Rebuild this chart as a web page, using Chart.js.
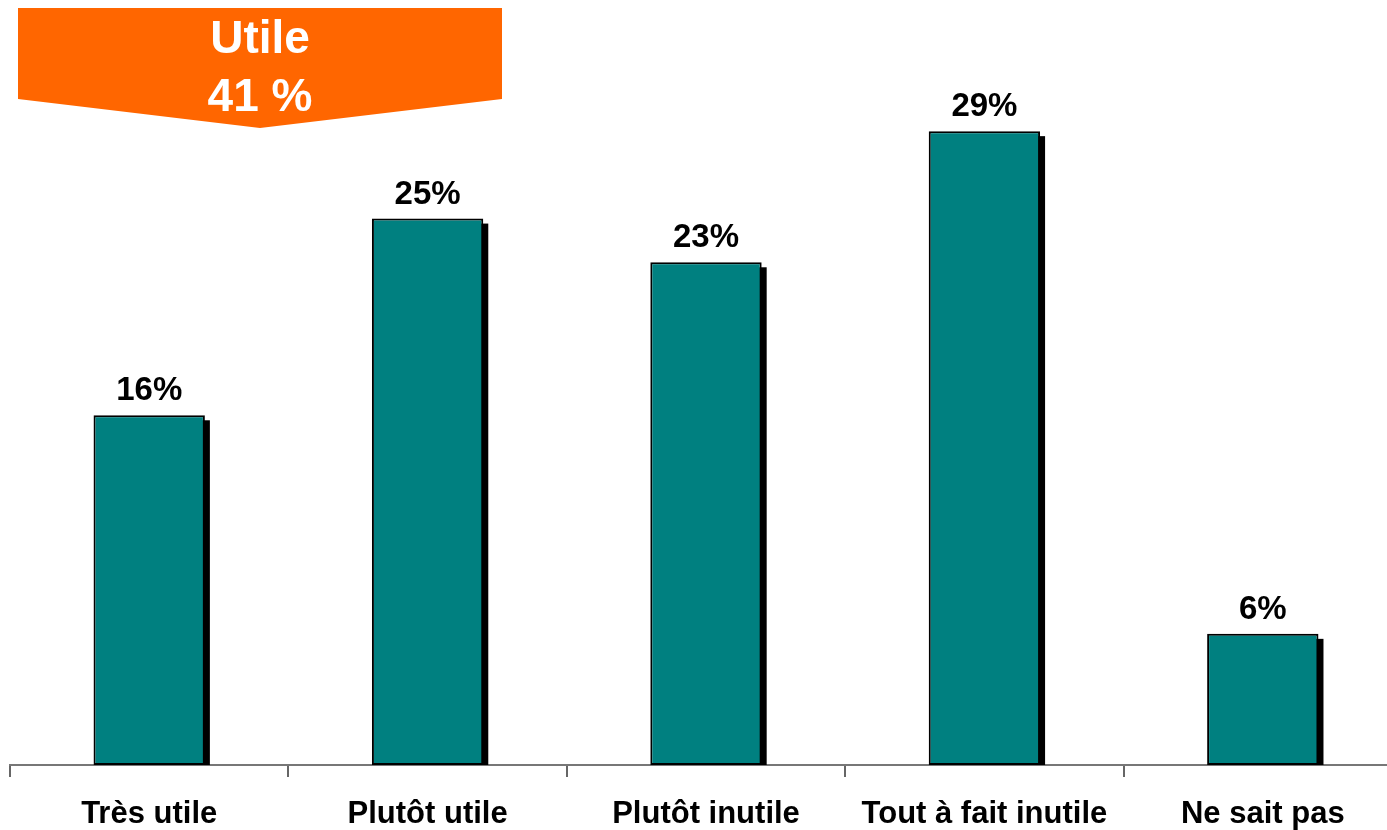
<!DOCTYPE html>
<html>
<head>
<meta charset="utf-8">
<script src="https://cdn.jsdelivr.net/npm/chart.js@4"></script>
<style>
html,body{margin:0;padding:0;background:#fff;overflow:hidden;}
#wrap{position:relative;width:1402px;height:830px;}
</style>
</head>
<body>
<div id="wrap"><canvas id="c"></canvas></div>
<script>
const categories = ["Très utile", "Plutôt utile", "Plutôt inutile", "Tout à fait inutile", "Ne sait pas"];
const values = [16, 25, 23, 29, 6];
const bannerTitle = "Utile";
const bannerValue = "41 %";

const shadowPlugin = {
  id: 'shadow',
  beforeDatasetsDraw(chart) {
    const ctx = chart.ctx;
    const meta = chart.getDatasetMeta(0);
    ctx.save();
    ctx.fillStyle = '#000';
    meta.data.forEach(bar => {
      const left = bar.x - bar.width / 2;
      ctx.fillRect(left + 5, bar.y + 5, bar.width, bar.base - bar.y - 5);
    });
    ctx.restore();
  },
  afterDatasetsDraw(chart) {
    const ctx = chart.ctx;
    const meta = chart.getDatasetMeta(0);
    ctx.save();
    ctx.fillStyle = '#000';
    ctx.font = 'bold 33px "Liberation Sans", Arial, sans-serif';
    ctx.textAlign = 'center';
    ctx.textBaseline = 'alphabetic';
    meta.data.forEach((bar, i) => {
      ctx.fillText(values[i] + '%', bar.x, bar.y - 15);
    });
    ctx.restore();
  },
  afterDraw(chart) {
    const ctx = chart.ctx;
    ctx.save();
    ctx.fillStyle = '#FF6600';
    ctx.beginPath();
    ctx.moveTo(18, 8);
    ctx.lineTo(502, 8);
    ctx.lineTo(502, 99);
    ctx.lineTo(260, 128);
    ctx.lineTo(18, 99);
    ctx.closePath();
    ctx.fill();
    ctx.fillStyle = '#fff';
    ctx.font = 'bold 46px "Liberation Sans", Arial, sans-serif';
    ctx.textAlign = 'center';
    ctx.textBaseline = 'alphabetic';
    ctx.fillText(bannerTitle, 260, 53);
    ctx.fillText(bannerValue, 260, 111);
    ctx.restore();
  }
};

new Chart(document.getElementById('c'), {
  type: 'bar',
  data: {
    labels: categories,
    datasets: [{
      data: values,
      backgroundColor: '#008080',
      borderColor: '#000',
      borderWidth: 2,
      borderSkipped: false,
      barPercentage: 0.5,
      categoryPercentage: 0.8
    }]
  },
  options: {
    responsive: true,
    maintainAspectRatio: false,
    animation: false,
    layout: { padding: { left: 10, right: 0, top: 0, bottom: 0 } },
    plugins: { legend: { display: false }, tooltip: { enabled: false } },
    scales: {
      x: {
        afterFit(scale) { scale.height = 65; },
        grid: { display: true, drawOnChartArea: false, drawTicks: true, tickLength: 12, color: '#666', lineWidth: 2, offset: true },
        border: { display: true, color: '#777', width: 2 },
        ticks: {
          color: '#000',
          padding: 19,
          maxRotation: 0,
          autoSkip: false,
          font: { family: '"Liberation Sans", Arial, sans-serif', size: 31, weight: 'bold', lineHeight: 1.2 }
        }
      },
      y: {
        display: false,
        min: 0,
        max: 35
      }
    }
  },
  plugins: [shadowPlugin]
});
</script>
</body>
</html>
